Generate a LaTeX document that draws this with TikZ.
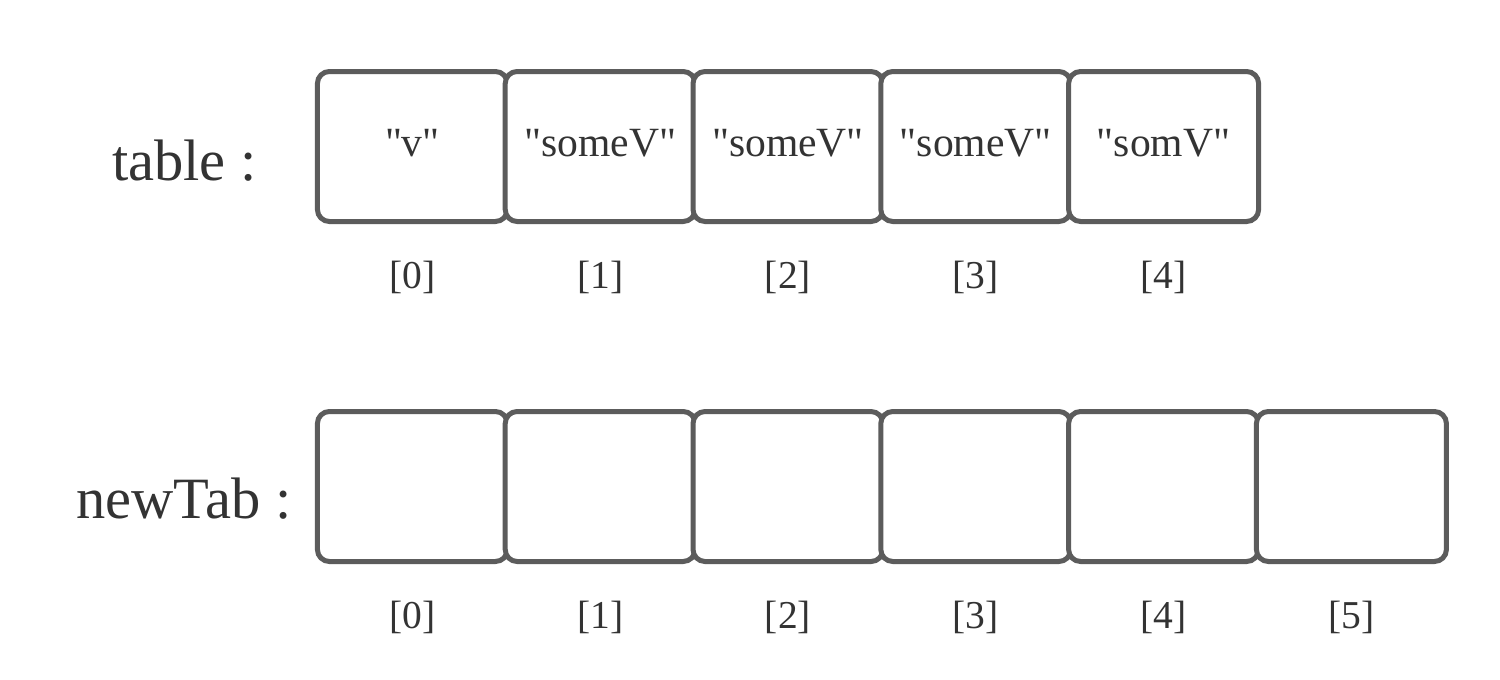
\documentclass[tikz,border=0pt]{standalone}
\usepackage{fontspec}
\setmainfont{Liberation Serif}
\newfontfamily\libserif{Liberation Serif}
\definecolor{txtc}{HTML}{333333}
\definecolor{boxc}{HTML}{5C5C5C}
\tikzset{
  cell/.style={draw=boxc, line width=5pt, rounded corners=12pt, rectangle,
    minimum width=190pt, minimum height=150pt, inner sep=0pt, fill=white},
  celltxt/.style={text=txtc, font=\libserif\fontsize{41.6pt}{41.6pt}\selectfont, anchor=base, inner sep=0pt},
  idx/.style={text=txtc, font=\libserif\fontsize{39.5pt}{39.5pt}\selectfont, anchor=base, inner sep=0pt},
  side/.style={text=txtc, font=\libserif\fontsize{58.5pt}{58.5pt}\selectfont, anchor=base, inner sep=0pt}
}
\begin{document}
\begin{tikzpicture}[x=1pt,y=-1pt]
\useasboundingbox (0,0) rectangle (1500,680);
\fill[white] (0,0) rectangle (1500,680);
% top row
\foreach \i/\t in {0/{"v"},1/{"someV"},2/{"someV"},3/{"someV"},4/{"somV"}} {
  \node[cell] (a\i) at ({318.5+187.8*\i+93.9},146.5) {};
  \node[celltxt] (at\i) at ({318.5+187.8*\i+93.9},156) {\t};
  \node[idx] (ai\i) at ({318.5+187.8*\i+93.9},288) {[\i]};
}
% bottom row
\foreach \i in {0,...,5} {
  \node[cell] (b\i) at ({318.5+187.8*\i+93.9},486.5) {};
  \node[idx] (bi\i) at ({318.5+187.8*\i+93.9},628) {[\i]};
}
\node[side] (tl) at (184.5,180) {table :};
\node[side] (nl) at (184,518) {newTab :};
\end{tikzpicture}
\end{document}
